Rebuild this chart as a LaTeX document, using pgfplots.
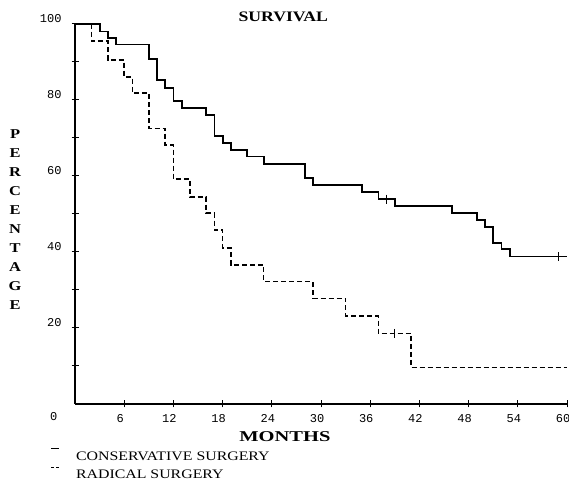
\documentclass[border=0pt]{standalone}
\usepackage{fontspec}
\setmainfont{Liberation Serif}[FakeStretch=1.22]
\newfontfamily\tickfont{Liberation Mono}
\usepackage{graphicx}
\usepackage{pgfplots}
\pgfplotsset{compat=1.18}
\begin{document}
\begin{tikzpicture}
\begin{axis}[
  x=8.2pt, y=3.8pt,
  xmin=0, xmax=60, ymin=0, ymax=100,
  enlargelimits=false,
  axis x line=bottom, axis y line=left,
  axis line style={-, line width=1.8pt},
  clip=false,
  xtick={6,12,...,60},
  ytick={20,40,...,100},
  minor ytick={10,30,50,70,90},
  tick align=center,
  major tick length=7pt, minor tick length=7pt,
  tick style={black, line width=1pt},
  /pgf/number format/assume math mode=true,
  ticklabel style={font=\tickfont\fontsize{12}{12}\selectfont},
  xticklabel style={yshift=-3.5pt, xshift=-4pt},
  yticklabel style={xshift=-6.5pt, yshift=5.5pt},
]
% Radical surgery (dashed)
\addplot[const plot, black, line width=1.5pt, dash pattern=on 5pt off 3pt] coordinates {
(0,100) (2,95.5) (4,90.5) (6,86.1) (7,81.8) (9,72.5) (11,68.2) (12,59.2)
(14,54.4) (16,50.2) (17,45.8) (18,41.0) (19,36.6) (23,32.2) (29,27.8)
(33,23.2) (37,18.6) (41,9.6) (60,9.6)
};
% Conservative surgery (solid)
\addplot[const plot, black, line width=1.8pt] coordinates {
(0,100) (3,98.0) (4,96.2) (5,94.6) (9,90.7) (10,85.3) (11,83.2) (12,79.8)
(13,77.8) (16,76.1) (17,70.5) (18,68.6) (19,66.8) (21,65.1) (23,63.2)
(28,59.4) (29,57.6) (35,55.7) (37,53.9) (39,52.1) (46,50.3) (49,48.4)
(50,46.5) (51,42.4) (52,40.7) (53,38.8) (60,38.8)
};
% censored observations
\addplot[only marks, mark=|, mark size=4.5pt, mark options={line width=1.1pt, black}] coordinates {(38,53.9) (59,38.8) (39,18.6)};

\node[font=\tickfont\fontsize{12}{12}\selectfont] at (axis cs:-2.6,-3.4) {0};
\node[font=\bfseries\fontsize{14.5}{15}\selectfont] at (axis cs:25.4,101.8) {SURVIVAL};
\node[font=\bfseries\fontsize{15}{16}\selectfont] at (axis cs:25.6,-8.7) {\scalebox{1.12}[1]{MONTHS}};
\node[font=\bfseries\fontsize{13.5}{19}\selectfont, align=center, inner sep=0pt] at (axis cs:-7.3,48.5) {P\\E\\R\\C\\E\\N\\T\\A\\G\\E};
\node[font=\fontsize{13}{14}\selectfont, anchor=west, inner sep=0pt] at (axis cs:0.1,-13.7) {CONSERVATIVE SURGERY};
\node[font=\fontsize{13}{14}\selectfont, anchor=west, inner sep=0pt] at (axis cs:0.1,-18.4) {RADICAL SURGERY};
\draw[black, line width=0.9pt] (axis cs:-2.9,-11.8) -- (axis cs:-2.0,-11.8);
\draw[black, line width=0.9pt] (axis cs:-2.9,-16.8) -- (axis cs:-2.6,-16.8);
\draw[black, line width=0.9pt] (axis cs:-2.3,-16.8) -- (axis cs:-2.0,-16.8);

\coordinate (bl) at (axis cs:-9.146,-20.53);
\coordinate (tr) at (axis cs:60.24,106.3);
\end{axis}
\pgfresetboundingbox
\path[use as bounding box] (bl) rectangle (tr);
\end{tikzpicture}
\end{document}
